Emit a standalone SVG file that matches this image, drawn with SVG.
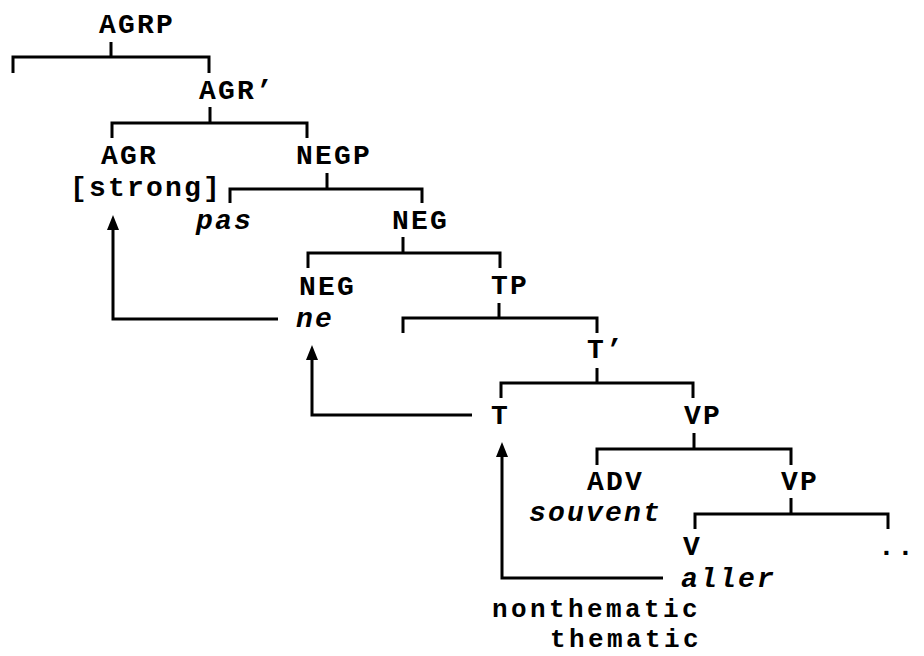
<svg xmlns="http://www.w3.org/2000/svg" width="924" height="656" viewBox="0 0 924 656">
<defs>
<style>
text{font-family:"Liberation Mono","Courier New",monospace;font-size:28px;font-weight:bold;letter-spacing:2.2px;fill:#000}
.i{font-style:italic}
.s{font-size:26px;letter-spacing:3.4px}
.ln{fill:none;stroke:#000;stroke-width:3;stroke-linejoin:miter;stroke-linecap:butt}
.ah{fill:#000;stroke:none}
</style>
</defs>
<rect width="924" height="656" fill="#fff"/>
<g id="connectors">
<path class="ln" d="M111,42 V57 M13,73 V57 H209 V73"/>
<path class="ln" d="M210,107 V123 M112,138 V123 H307 V138"/>
<path class="ln" d="M327,173 V189 M230,203 V189 H422 V203"/>
<path class="ln" d="M403,237 V253 M308,268 V253 H500 V268"/>
<path class="ln" d="M499,303 V318 M403,333 V318 H597 V333"/>
<path class="ln" d="M597,368 V383 M501,398 V383 H693 V398"/>
<path class="ln" d="M694,433 V449 M597,465 V449 H791 V465"/>
<path class="ln" d="M791,498 V514 M695,529 V514 H888 V529"/>
<path class="ln" d="M278,319 H113 V226"/>
<polygon class="ah" points="113,215 119,230 107,230"/>
<path class="ln" d="M472,415 H312 V356"/>
<polygon class="ah" points="312,345 318,360 306,360"/>
<path class="ln" d="M663,578 H502 V453"/>
<polygon class="ah" points="502,442 508,457 496,457"/>
</g>
<g id="agrp"><text x="99" y="33">AGRP</text></g>
<g id="agr-bar"><text x="199" y="99">AGR’</text></g>
<g id="agr"><text x="101" y="164">AGR</text><text x="70" y="196">[strong]</text></g>
<g id="negp"><text x="296" y="164">NEGP</text></g>
<g id="pas"><text class="i" x="196" y="229">pas</text></g>
<g id="neg-bar"><text x="392" y="229">NEG</text></g>
<g id="neg"><text x="299" y="295">NEG</text><text class="i" x="296" y="327">ne</text></g>
<g id="tp"><text x="491" y="294">TP</text></g>
<g id="t-bar"><text x="587" y="358">T’</text></g>
<g id="t"><text x="491" y="424">T</text></g>
<g id="vp1"><text x="684" y="424">VP</text></g>
<g id="adv"><text x="587" y="490">ADV</text><text class="i" x="529" y="521">souvent</text></g>
<g id="vp2"><text x="781" y="490">VP</text></g>
<g id="v"><text x="683" y="555">V</text><text class="i" x="681" y="587">aller</text><text class="s" x="492" y="617">nonthematic</text><text class="s" x="550" y="647">thematic</text></g>
<g id="rest"><text x="878" y="555">..</text></g>
</svg>
